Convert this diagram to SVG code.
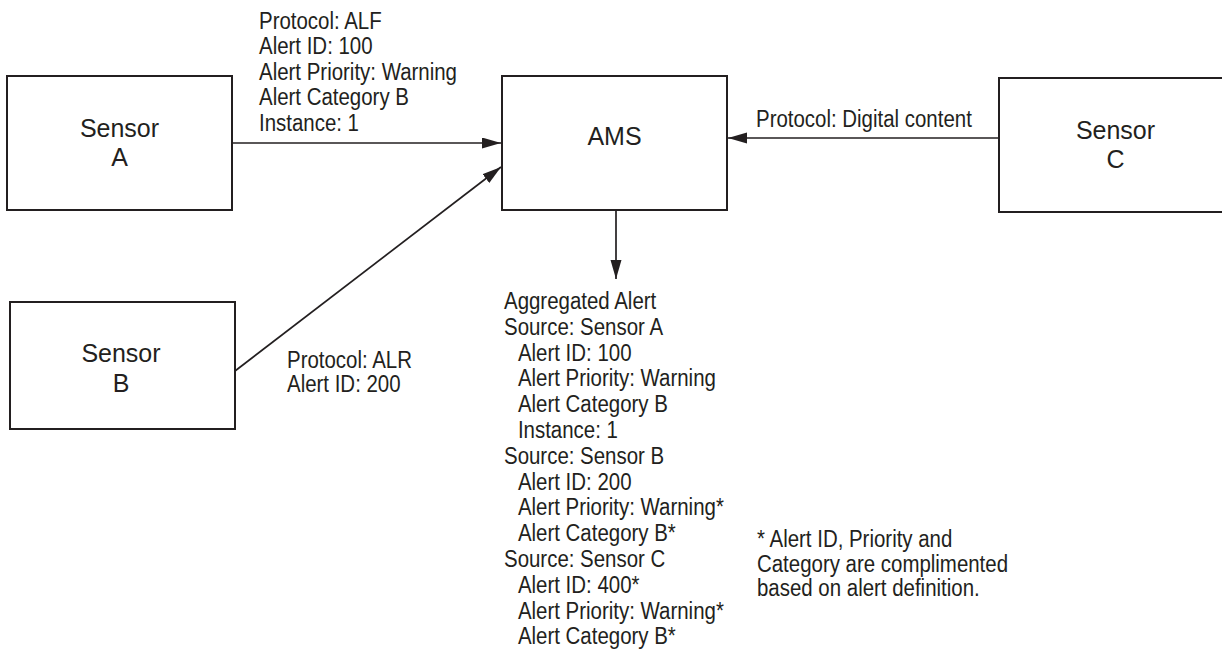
<svg xmlns="http://www.w3.org/2000/svg" width="1222" height="659" viewBox="0 0 1222 659">
<style>
.box{fill:#fff;stroke:#231f20;stroke-width:2}
.lbl{font-family:"Liberation Sans",Arial,sans-serif;font-size:25px;fill:#231f20;text-anchor:middle}
.t{font-family:"Liberation Sans",Arial,sans-serif;font-size:23.5px;fill:#231f20}
.c{stroke:#231f20;stroke-width:1.7;fill:none}
</style>
<defs>
<marker id="ah" markerUnits="userSpaceOnUse" markerWidth="20" markerHeight="12" refX="19" refY="5.5" orient="auto">
<path d="M0,0 L19,5.5 L0,11 z" fill="#231f20"/>
</marker>
</defs>
<g id="connectors">
<line class="c" x1="232" y1="143" x2="501" y2="143" marker-end="url(#ah)"/>
<line class="c" x1="235" y1="371" x2="501" y2="167" marker-end="url(#ah)"/>
<line class="c" x1="999" y1="138" x2="728" y2="138" marker-end="url(#ah)"/>
<line class="c" x1="616" y1="210" x2="616" y2="279" marker-end="url(#ah)"/>
<g transform="translate(259,0) scale(0.87,1)">
<text class="t" x="0" y="29">Protocol: ALF</text>
<text class="t" x="0" y="54.5">Alert ID: 100</text>
<text class="t" x="0" y="80">Alert Priority: Warning</text>
<text class="t" x="0" y="105.5">Alert Category B</text>
<text class="t" x="0" y="131">Instance: 1</text>
</g>
<g transform="translate(287,0) scale(0.87,1)">
<text class="t" x="0" y="368">Protocol: ALR</text>
<text class="t" x="0" y="392">Alert ID: 200</text>
</g>
<g transform="translate(756,0) scale(0.87,1)">
<text class="t" x="0" y="127">Protocol: Digital content</text>
</g>
</g>
<g id="sensorA">
<rect class="box" x="7" y="76" width="225" height="134"/>
<text class="lbl" x="119.5" y="137">Sensor</text>
<text class="lbl" x="119.5" y="166">A</text>
</g>
<g id="sensorB">
<rect class="box" x="10" y="302" width="225" height="127"/>
<text class="lbl" x="121" y="362">Sensor</text>
<text class="lbl" x="121" y="392">B</text>
</g>
<g id="ams">
<rect class="box" x="502" y="76" width="225" height="134"/>
<text class="lbl" x="614.5" y="145">AMS</text>
</g>
<g id="sensorC">
<rect class="box" x="999" y="78" width="234" height="134"/>
<text class="lbl" x="1115.5" y="138.5">Sensor</text>
<text class="lbl" x="1115.5" y="168">C</text>
</g>
<g id="aggregated" transform="translate(504,0) scale(0.87,1)">
<text class="t" x="0" y="309">Aggregated Alert</text>
<text class="t" x="0" y="334.8">Source: Sensor A</text>
<text class="t" x="16" y="360.6">Alert ID: 100</text>
<text class="t" x="16" y="386.4">Alert Priority: Warning</text>
<text class="t" x="16" y="412.2">Alert Category B</text>
<text class="t" x="16" y="438">Instance: 1</text>
<text class="t" x="0" y="463.8">Source: Sensor B</text>
<text class="t" x="16" y="489.6">Alert ID: 200</text>
<text class="t" x="16" y="515.4">Alert Priority: Warning*</text>
<text class="t" x="16" y="541.2">Alert Category B*</text>
<text class="t" x="0" y="567">Source: Sensor C</text>
<text class="t" x="16" y="592.8">Alert ID: 400*</text>
<text class="t" x="16" y="618.6">Alert Priority: Warning*</text>
<text class="t" x="16" y="644.4">Alert Category B*</text>
</g>
<g id="footnote" transform="translate(757,0) scale(0.87,1)">
<text class="t" x="0" y="547">* Alert ID, Priority and</text>
<text class="t" x="0" y="572">Category are complimented</text>
<text class="t" x="0" y="596.5">based on alert definition.</text>
</g>
</svg>
